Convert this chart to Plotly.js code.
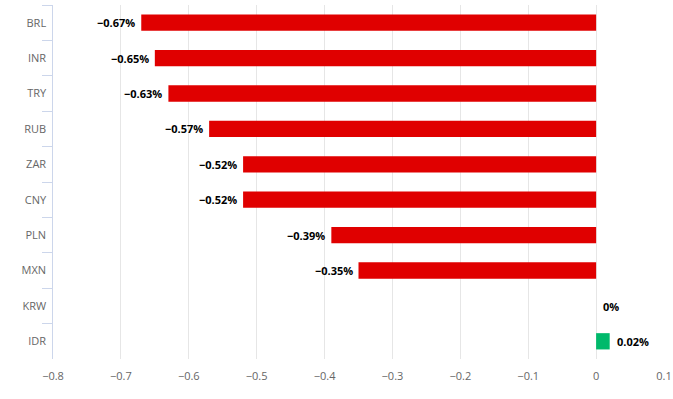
<!DOCTYPE html>
<html>
<head>
<meta charset="utf-8">
<script src="https://cdn.plot.ly/plotly-3.0.1.min.js"></script>
<style>html,body{margin:0;padding:0;background:#fff;}#chart{width:673px;height:399px;}</style>
</head>
<body>
<div id="chart"></div>
<script>
const categories = ["BRL","INR","TRY","RUB","ZAR","CNY","PLN","MXN","KRW","IDR"];
const values = [-0.67,-0.65,-0.63,-0.57,-0.52,-0.52,-0.39,-0.35,0,0.02];
const labels = ["\u22120.67%","\u22120.65%","\u22120.63%","\u22120.57%","\u22120.52%","\u22120.52%","\u22120.39%","\u22120.35%","0%","0.02%"];

const colors = values.map(v => v < 0 ? "#e00000" : "#00b96b");

const trace = {
  type: "bar",
  orientation: "h",
  x: values,
  y: categories,
  marker: {color: colors, line: {width: 0}},
  width: 0.46,
  hoverinfo: "none"
};

const annotations = values.map((v, i) => ({
  x: v,
  y: categories[i],
  xref: "x",
  yref: "y",
  text: labels[i],
  showarrow: false,
  xanchor: v < 0 ? "right" : "left",
  xshift: v < 0 ? -4 : 5,
  yshift: v === 0 ? -1 : 0,
  font: {family: "Open Sans, sans-serif", size: 11, color: "#000000", weight: "bold"}
}));

const layout = {
  width: 673,
  height: 399,
  margin: {l: 53, r: 9, t: 5, b: 40},
  paper_bgcolor: "#ffffff",
  plot_bgcolor: "#ffffff",
  showlegend: false,
  font: {family: "Open Sans, sans-serif", size: 11, color: "#666666"},
  xaxis: {
    range: [-0.8, 0.1],
    dtick: 0.1,
    tick0: 0,
    showgrid: true,
    gridcolor: "#e6e6e6",
    gridwidth: 1,
    zeroline: false,
    showline: false,
    ticks: "",
    ticklabelstandoff: 9,
    tickfont: {family: "Open Sans, sans-serif", size: 11, color: "#666666"},
    fixedrange: true
  },
  yaxis: {
    type: "category",
    autorange: "reversed",
    showgrid: false,
    zeroline: false,
    showline: true,
    linecolor: "#ccd6eb",
    linewidth: 1,
    ticks: "outside",
    tickson: "boundaries",
    ticklen: 10,
    tickcolor: "#ccd6eb",
    tickwidth: 1,
    ticksuffix: "\u2004",
    tickfont: {family: "Open Sans, sans-serif", size: 11, color: "#666666"},
    fixedrange: true
  },
  annotations: annotations
};

Plotly.newPlot("chart", [trace], layout, {displayModeBar: false, staticPlot: true});
</script>
</body>
</html>
